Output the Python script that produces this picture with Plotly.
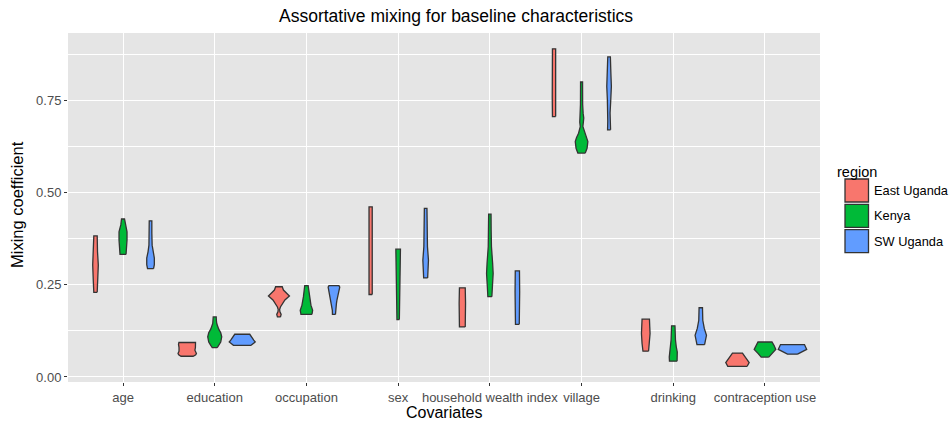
import plotly.graph_objects as go

categories = ["age", "education", "occupation", "sex", "household wealth index",
              "village", "drinking", "contraception use"]
regions = ["East Uganda", "Kenya", "SW Uganda"]
region_colors = ["#F8766D", "#00BA38", "#619CFF"]

# Violin profiles: (mixing coefficient, relative density) pairs, bottom to top, per category
east_uganda = [
    [(0.230, 1.7), (0.260, 2.2), (0.304, 2.8), (0.340, 2.0), (0.383, 1.7)],
    [(0.0563, 6.2), (0.060, 8.5), (0.064, 9.2), (0.070, 8.2), (0.0726, 7.7), (0.080, 8.2), (0.089, 8.7), (0.0936, 8.3)],
    [(0.163, 1.5), (0.170, 2.2), (0.177, 1.0), (0.183, 0.7), (0.190, 1.5), (0.200, 3.5), (0.209, 6.0), (0.220, 10.5), (0.230, 7.0), (0.236, 4.5), (0.245, 3.3)],
    [(0.224, 1.6), (0.300, 1.8), (0.400, 1.7), (0.462, 1.6)],
    [(0.136, 2.9), (0.160, 3.2), (0.200, 3.2), (0.242, 2.9)],
    [(0.707, 1.6), (0.760, 1.8), (0.820, 1.9), (0.891, 1.6)],
    [(0.070, 2.8), (0.091, 3.7), (0.118, 4.3), (0.136, 4.0), (0.157, 3.7)],
    [(0.029, 9.7), (0.039, 11.7), (0.053, 8.0), (0.065, 5.0)],
]
kenya = [
    [(0.333, 3.0), (0.350, 3.6), (0.372, 4.0), (0.394, 4.0), (0.405, 3.0), (0.413, 2.2), (0.420, 1.6), (0.429, 1.5)],
    [(0.080, 2.5), (0.086, 4.0), (0.095, 6.0), (0.109, 7.0), (0.120, 6.0), (0.130, 4.0), (0.145, 2.0), (0.155, 1.6), (0.163, 1.5)],
    [(0.170, 5.5), (0.181, 6.2), (0.195, 4.5), (0.218, 3.0), (0.235, 2.0), (0.248, 1.7)],
    [(0.156, 1.2), (0.200, 1.5), (0.260, 1.9), (0.310, 2.2), (0.347, 2.3)],
    [(0.218, 2.0), (0.245, 2.5), (0.281, 3.3), (0.308, 2.8), (0.354, 1.6), (0.400, 1.3), (0.442, 1.2)],
    [(0.608, 3.7), (0.621, 5.5), (0.639, 6.3), (0.650, 5.0), (0.662, 3.0), (0.672, 1.8), (0.680, 1.3), (0.692, 1.8), (0.703, 2.2), (0.715, 1.6), (0.740, 1.1), (0.801, 1.0)],
    [(0.043, 3.8), (0.054, 4.0), (0.068, 4.0), (0.082, 3.0), (0.100, 2.2), (0.139, 1.7)],
    [(0.054, 3.8), (0.064, 7.0), (0.075, 10.8), (0.086, 9.0), (0.095, 7.0)],
]
sw_uganda = [
    [(0.294, 3.0), (0.305, 3.8), (0.323, 3.8), (0.340, 2.5), (0.358, 1.6), (0.390, 1.3), (0.424, 1.3)],
    [(0.086, 8.8), (0.090, 11.0), (0.095, 13.0), (0.100, 11.5), (0.109, 9.0), (0.116, 7.5)],
    [(0.170, 1.5), (0.181, 1.6), (0.200, 2.5), (0.209, 3.0), (0.236, 5.3), (0.244, 5.8), (0.248, 5.0)],
    [(0.269, 2.0), (0.290, 2.4), (0.317, 2.8), (0.354, 1.8), (0.400, 1.4), (0.458, 1.3)],
    [(0.143, 1.9), (0.180, 2.2), (0.230, 2.3), (0.288, 2.1)],
    [(0.671, 1.5), (0.695, 1.3), (0.717, 1.0), (0.753, 1.7), (0.789, 2.3), (0.825, 1.8), (0.869, 1.3)],
    [(0.088, 3.8), (0.100, 5.0), (0.113, 5.7), (0.132, 3.5), (0.154, 2.0), (0.188, 1.7)],
    [(0.062, 5.0), (0.068, 9.0), (0.075, 14.2), (0.088, 12.0)],
]
y_ticks = [0.0, 0.25, 0.50, 0.75]
y_tick_labels = ["0.00", "0.25", "0.50", "0.75"]

profiles = [east_uganda, kenya, sw_uganda]
dodge = [-0.3, 0.0, 0.3]
WIDTH_SCALE = 1 / 91.7

fig = go.Figure()
for r, (name, color, prof) in enumerate(zip(regions, region_colors, profiles)):
    for i, pts in enumerate(prof):
        c = i + 1 + dodge[r]
        ys = [p[0] for p in pts]
        ds = [p[1] * WIDTH_SCALE for p in pts]
        xs = [c + d for d in ds] + [c - d for d in reversed(ds)] + [c + ds[0]]
        yy = ys + list(reversed(ys)) + [ys[0]]
        fig.add_trace(go.Scatter(
            x=xs, y=yy, mode="lines", fill="toself", fillcolor=color,
            line=dict(color="#333333", width=1.3), name=name,
            legendgroup=name, showlegend=False, hoverinfo="name",
        ))

L, R, T, B = 68, 129, 33, 40
W, H = 949, 422
pw, ph = W - L - R, H - T - B


def px(xp):
    return (xp - L) / pw


def py(yp):
    return (H - B - yp) / ph


shapes = []
annotations = []
# manual legend (ggplot-style keys)
annotations.append(dict(text="region", x=px(835), y=py(172), xref="paper", yref="paper",
                        xanchor="left", yanchor="middle", showarrow=False,
                        font=dict(size=14.5, color="black")))
for k, (name, color) in enumerate(zip(regions, region_colors)):
    top = 179 + k * 25.3
    shapes.append(dict(type="rect", xref="paper", yref="paper",
                       x0=px(845), x1=px(868.5), y0=py(top + 23), y1=py(top),
                       fillcolor=color, line=dict(color="#333333", width=1.3)))
    annotations.append(dict(text=name, x=px(872), y=py(top + 11.5), xref="paper", yref="paper",
                            xanchor="left", yanchor="middle", showarrow=False,
                            font=dict(size=12.8, color="black")))
# axis titles
annotations.append(dict(text="Covariates", x=px(444), y=py(412), xref="paper", yref="paper",
                        xanchor="center", yanchor="middle", showarrow=False,
                        font=dict(size=16, color="black")))
annotations.append(dict(text="Mixing coefficient", x=px(17), y=py(205), xref="paper", yref="paper",
                        xanchor="center", yanchor="middle", showarrow=False, textangle=-90,
                        font=dict(size=16.5, color="black")))
annotations.append(dict(text="Assortative mixing for baseline characteristics", x=px(456), y=py(16),
                        xref="paper", yref="paper", xanchor="center", yanchor="middle",
                        showarrow=False, font=dict(size=17.5, color="black")))

fig.update_layout(
    width=W, height=H,
    margin=dict(l=L, r=R, t=T, b=B, pad=0),
    paper_bgcolor="white", plot_bgcolor="#E5E5E5",
    font=dict(family="Liberation Sans, Arial, sans-serif", color="#4D4D4D", size=13),
    showlegend=False,
    shapes=shapes, annotations=annotations,
    xaxis=dict(range=[0.4, 8.6], tickvals=list(range(1, len(categories) + 1)), ticktext=categories,
               showgrid=True, gridcolor="white", gridwidth=1.1, zeroline=False,
               ticks="outside", ticklen=3, tickcolor="#333333", tickwidth=1,
               tickfont=dict(size=13, color="#4D4D4D"), showline=False, fixedrange=True),
    yaxis=dict(range=[-0.0136, 0.934], tickvals=y_ticks, ticktext=y_tick_labels,
               showgrid=True, gridcolor="white", gridwidth=1.1, zeroline=False,
               ticks="outside", ticklen=3, tickcolor="#333333", tickwidth=1,
               tickfont=dict(size=13, color="#4D4D4D"), showline=False,
               minor=dict(tickvals=[0.125, 0.375, 0.625, 0.875], showgrid=True,
                          gridcolor="white", gridwidth=0.55, ticks=""),
               fixedrange=True),
)

fig.write_html("out.html", config={"displayModeBar": False},
               post_script="document.body.style.margin='0px';document.body.style.overflow='hidden';")
